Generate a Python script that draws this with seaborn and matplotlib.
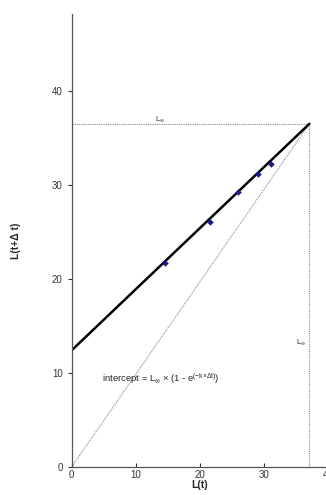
import numpy as np
import pandas as pd
import seaborn as sns
import matplotlib.pyplot as plt

# values
linf_x = 37.1   # L_inf where it meets the L(t) axis
linf_y = 36.5   # L_inf on the L(t+dt) axis
intercept = 12.4
lt = [14.5, 21.6, 25.9, 29.1, 31.1]
lt_dt = [21.7, 26.1, 29.2, 31.2, 32.2]

sns.set_style("ticks")
plt.rcParams['font.family'] = ['Liberation Sans', 'DejaVu Sans']
plt.rcParams['mathtext.fontset'] = 'custom'
plt.rcParams['mathtext.rm'] = 'Liberation Sans'
plt.rcParams['mathtext.it'] = 'Liberation Sans'

fig = plt.figure(figsize=(3.26, 4.95), dpi=100)
ax = fig.add_axes([0.22, 0.057, 0.786, 0.915])

pts = pd.DataFrame({"Lt": lt, "Ltdt": lt_dt})
fit = pd.DataFrame({"x": [0, linf_x], "y": [intercept, linf_y]})
diag = pd.DataFrame({"x": [0, linf_x], "y": [0, linf_y]})

grey = "#888888"
sns.lineplot(data=diag, x="x", y="y", ax=ax, color=grey, lw=0.8, ls=(0, (1, 1)))
ax.plot([0, linf_x], [linf_y, linf_y], color=grey, lw=0.8, ls=(0, (1, 1)))
ax.plot([linf_x, linf_x], [0, linf_y], color=grey, lw=0.8, ls=(0, (1, 1)))
sns.lineplot(data=fit, x="x", y="y", ax=ax, color="black", lw=1.8)
sns.scatterplot(data=pts, x="Lt", y="Ltdt", ax=ax, color="#1a1a8c", marker="D", s=9,
                edgecolor="#1a1a8c", zorder=5)

ax.text(13.8, linf_y, r"L$_{\infty}$", fontsize=5.5, ha="center", va="bottom")
ax.text(linf_x - 0.6, 13.2, r"L$_{\infty}$", fontsize=5.5, ha="right", va="center")
ax.text(4.7, 9.4, r"intercept = L$_{\infty}$ × (1 - e$^{(-k × \Delta t)}$)", fontsize=6.8,
        ha="left", va="center")

ax.set_xlim(0, 40)
ax.set_ylim(0, 48.2)
ax.set_xticks([0, 10, 20, 30, 40])
ax.set_yticks([0, 10, 20, 30, 40])
ax.tick_params(labelsize=7, width=0.8, colors="#333333")
ax.tick_params(axis="x", direction="in", length=3, pad=2)
ax.tick_params(axis="y", direction="out", length=3)
ax.set_xlabel("L(t)", fontsize=7.5, fontweight="bold", labelpad=0)
ax.set_ylabel("L(t+Δ t)", fontsize=7.5, fontweight="bold", labelpad=22)
for s in ["top", "right"]:
    ax.spines[s].set_visible(False)
for s in ["left", "bottom"]:
    ax.spines[s].set_color("#555555")
    ax.spines[s].set_linewidth(0.9)

fig.savefig("out.png", dpi=100)
